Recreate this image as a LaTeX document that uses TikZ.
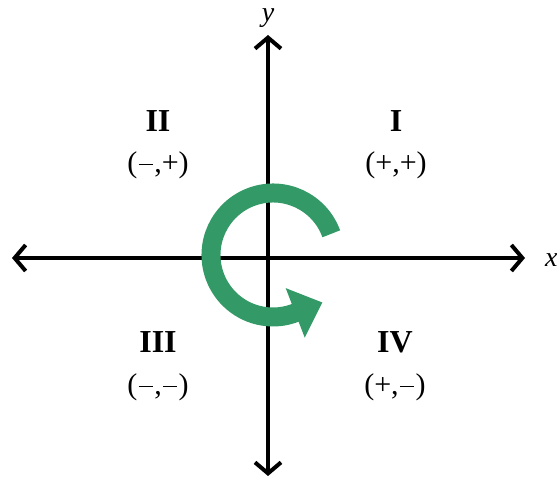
\documentclass[tikz,border=0pt]{standalone}
\usepackage{fontspec}
\setmainfont{Liberation Serif}
\usetikzlibrary{arrows.meta,calc}
\definecolor{arrowgreen}{RGB}{51,153,102}
\newcommand{\mymin}{\kern0.045em\rule[0.235em]{0.475em}{0.048em}\kern0.045em}
\begin{document}
\begin{tikzpicture}[x=1pt,y=1pt,
  axis/.style={line width=4pt,
    {Straight Barb[length=11pt,width=26pt]}-{Straight Barb[length=11pt,width=26pt]}},
  quad/.style={font=\fontsize{32}{36}\selectfont\bfseries, inner sep=0pt},
  sign/.style={font=\fontsize{30}{34}\selectfont, inner sep=0pt},
  lbl/.style={font=\fontsize{28}{32}\selectfont\itshape, inner sep=0pt}]
\useasboundingbox (0,0) rectangle (557,479);
\coordinate (L) at (12,221);
\coordinate (R) at (525,221);
\coordinate (T) at (268,444);
\coordinate (B) at (268,3);
\draw[axis] (L) -- (R);
\draw[axis] (B) -- (T);
\node[lbl] (ylab) at (268,461) {y};
\node[lbl, anchor=west] (xlab) at (545,219) {x};
% rotation arrow
\coordinate (C) at (273,224);
\draw[arrowgreen, line width=19pt] ([shift={(20:62)}]C) arc[start angle=20, end angle=292, radius=62];
\fill[arrowgreen] ([shift={(-69:88.5)}]C) -- ($([shift={(-69:62)}]C)+(21:29)$) -- ([shift={(-69:35.5)}]C) -- cycle;
% quadrant labels
\node[quad] (q1) at (396,358) {I};
\node[sign] (s1) at (396,314) {(+,+)};
\node[quad] (q2) at (158,358) {II};
\node[sign] (s2) at (158,314) {(\mymin,+)};
\node[quad] (q3) at (158,137) {III};
\node[sign] (s3) at (158,92) {(\mymin,\mymin)};
\node[quad] (q4) at (395,137) {IV};
\node[sign] (s4) at (395,92) {(+,\mymin)};
\end{tikzpicture}
\end{document}
